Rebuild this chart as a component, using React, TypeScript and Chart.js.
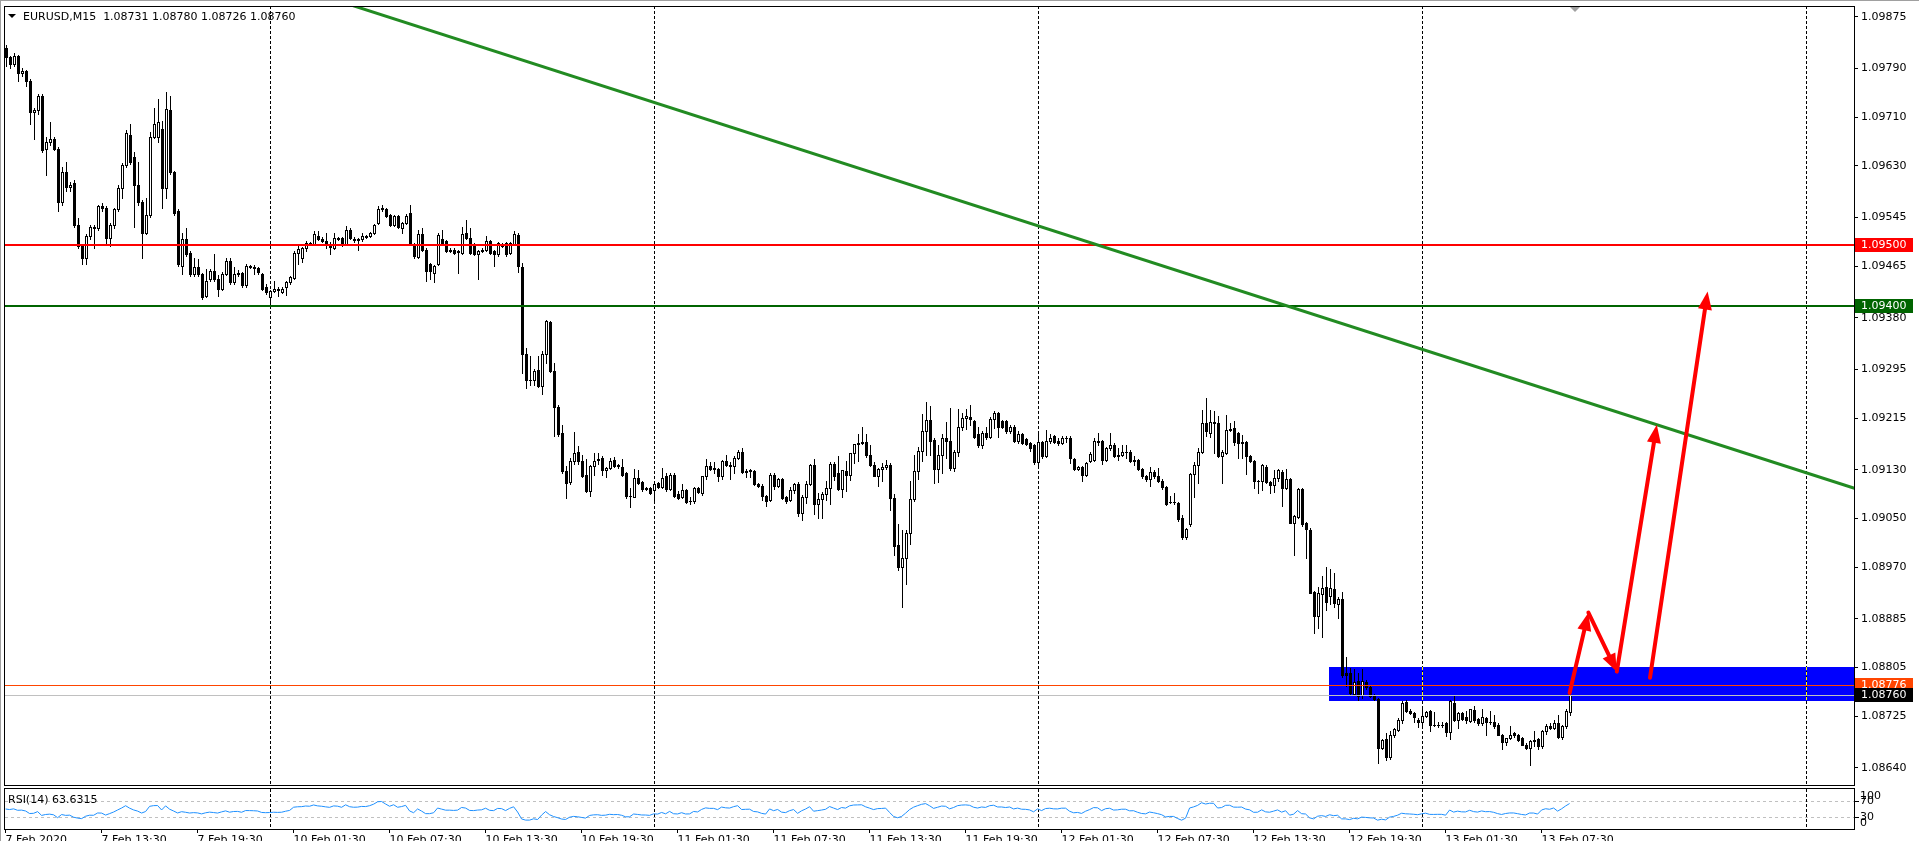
import React, { useEffect, useRef } from "react";
import { Chart, registerables } from "chart.js";

Chart.register(...registerables);

const FONT = '"DejaVu Sans", sans-serif';
const PRICE_SCALE = 100000; // OHLC below are in 1e-5 price units (109824 = 1.09824)

// EURUSD M15, bar 0 = 7 Feb 2020 07:30 ... bar 391 = 13 Feb 2020 09:15
const OPEN = [
  109824,109808,109797,109810,109783,109786,109770,109718,109721,109745,
  109658,109669,109674,109658,109571,109620,109595,109601,109533,109498,
  109479,109514,109530,109528,109563,109560,109511,109533,109558,109593,
  109631,109680,109645,109598,109571,109520,109549,109677,109678,109690,
  109593,109721,109620,109555,109465,109509,109487,109452,109463,109452,
  109416,109443,109457,109443,109427,109452,109473,109438,109452,109454,
  109433,109465,109464,109461,109452,109430,109414,109424,109428,109422,
  109430,109438,109446,109487,109478,109495,109503,109501,109514,109509,
  109506,109501,109495,109511,109511,109501,109525,109510,109509,109509,
  109514,109514,109519,109536,109558,109558,109549,109533,109547,109528,
  109536,109552,109501,109480,109517,109492,109468,109454,109468,109509,
  109506,109492,109492,109488,109487,109520,109511,109501,109484,109490,
  109492,109506,109490,109484,109498,109503,109487,109501,109516,109464,
  109320,109278,109278,109294,109268,109320,109373,109292,109234,109191,
  109128,109110,109144,109160,109144,109122,109095,109136,109146,109150,
  109130,109133,109146,109136,109134,109124,109087,109086,109117,109110,
  109100,109100,109097,109108,109102,109120,109098,109121,109090,109085,
  109096,109079,109078,109100,109091,109120,109136,109133,109131,109119,
  109145,109138,109136,109150,109160,109126,109128,109128,109107,109104,
  109087,109080,109122,109103,109115,109085,109080,109096,109106,109059,
  109086,109107,109138,109074,109082,109090,109100,109140,109124,109099,
  109128,109122,109158,109172,109174,109176,109154,109138,109120,109132,
  109134,109138,109083,109006,108970,108985,109026,109082,109128,109161,
  109194,109212,109179,109131,109155,109182,109178,109133,109160,109201,
  109215,109217,109210,109188,109171,109190,109184,109214,109223,109210,
  109210,109193,109201,109177,109188,109180,109174,109170,109142,109175,
  109153,109178,109185,109177,109174,109182,109183,109148,109131,109134,
  109122,109145,109146,109177,109177,109146,109166,109171,109152,109154,
  109160,109160,109145,109146,109131,109120,109115,109127,109120,109112,
  109101,109077,109077,109075,109050,109020,109040,109123,109138,109159,
  109207,109191,109208,109207,109153,109158,109196,109198,109190,109174,
  109175,109153,109144,109111,109111,109134,109110,109105,109116,109127,
  109100,109114,109043,109052,109098,109042,109031,108929,108889,108926,
  108937,108922,108934,108910,108917,108795,108796,108762,108782,108759,
  108781,108772,108760,108753,108673,108687,108657,108693,108702,108719,
  108748,108734,108730,108719,108715,108725,108733,108711,108710,108711,
  108713,108698,108747,108719,108730,108723,108717,108735,108720,108713,
  108722,108715,108716,108711,108693,108682,108689,108697,108693,108689,
  108678,108673,108686,108687,108675,108700,108709,108705,108714,108691,
  108708,108731,
];
const HIGH = [
  109828,109810,109815,109812,109790,109788,109772,109725,109748,109748,
  109677,109702,109677,109660,109628,109636,109603,109607,109544,109501,
  109517,109533,109533,109566,109569,109563,109536,109560,109598,109634,
  109688,109699,109652,109636,109574,109577,109685,109725,109740,109704,
  109752,109745,109622,109558,109520,109528,109490,109479,109476,109454,
  109460,109460,109484,109450,109455,109479,109479,109463,109458,109456,
  109468,109467,109466,109463,109454,109435,109426,109441,109430,109430,
  109440,109449,109489,109501,109497,109506,109505,109522,109522,109512,
  109520,109504,109520,109513,109513,109531,109527,109512,109511,109520,
  109516,109521,109534,109563,109565,109560,109551,109549,109549,109537,
  109551,109566,109503,109525,109528,109494,109470,109467,109520,109525,
  109508,109494,109494,109492,109530,109540,109528,109503,109492,109494,
  109514,109508,109492,109505,109503,109505,109505,109522,109520,109470,
  109331,109317,109295,109317,109325,109377,109375,109306,109236,109203,
  109136,109150,109192,109169,109155,109147,109138,109158,109158,109152,
  109135,109150,109151,109140,109147,109126,109100,109132,109130,109112,
  109102,109102,109110,109110,109133,109125,109125,109125,109095,109106,
  109098,109085,109102,109102,109120,109147,109143,109143,109133,109146,
  109155,109142,109152,109162,109165,109131,109131,109130,109109,109106,
  109089,109124,109124,109117,109117,109087,109101,109109,109110,109088,
  109111,109140,109147,109092,109093,109111,109142,109142,109152,109130,
  109144,109158,109172,109188,109200,109188,109170,109142,109133,109141,
  109146,109141,109090,109040,109031,109031,109111,109155,109168,109222,
  109242,109235,109182,109171,109188,109209,109231,109162,109230,109223,
  109230,109237,109212,109201,109194,109201,109217,109226,109225,109212,
  109212,109203,109203,109193,109191,109182,109176,109172,109193,109177,
  109196,109189,109187,109182,109185,109185,109186,109150,109136,109136,
  109143,109160,109183,109190,109179,109168,109190,109174,109165,109171,
  109171,109163,109152,109148,109133,109122,109134,109130,109133,109114,
  109103,109087,109092,109077,109056,109034,109125,109142,109166,109229,
  109248,109229,109226,109218,109162,109220,109207,109210,109192,109187,
  109178,109155,109146,109113,109139,109137,109112,109130,109132,109129,
  109132,109116,109056,109100,109100,109044,109034,108931,108938,108955,
  108970,108967,108960,108920,108929,108822,108804,108803,108796,108803,
  108784,108775,108762,108755,108687,108697,108700,108705,108721,108749,
  108752,108736,108732,108721,108737,108734,108735,108731,108715,108715,
  108715,108751,108758,108732,108732,108734,108736,108741,108722,108737,
  108724,108733,108727,108713,108695,108689,108708,108699,108696,108691,
  108680,108686,108700,108689,108702,108712,108714,108719,108726,108710,
  108736,108780,
];
const LOW = [
  109794,109790,109794,109770,109778,109761,109699,109674,109715,109652,
  109615,109664,109655,109555,109566,109588,109588,109530,109495,109468,
  109468,109509,109495,109525,109556,109501,109498,109528,109555,109577,
  109628,109633,109530,109566,109479,109517,109545,109675,109669,109560,
  109577,109617,109549,109465,109452,109482,109449,109449,109449,109411,
  109414,109440,109440,109416,109425,109450,109435,109436,109449,109430,
  109431,109462,109452,109452,109425,109419,109403,109422,109416,109420,
  109417,109436,109444,109468,109472,109490,109499,109499,109507,109504,
  109495,109484,109493,109507,109498,109499,109509,109505,109492,109506,
  109511,109512,109517,109534,109555,109546,109531,109531,109528,109520,
  109534,109499,109479,109478,109490,109441,109443,109438,109466,109501,
  109488,109488,109485,109454,109485,109509,109485,109483,109443,109488,
  109490,109485,109465,109482,109496,109482,109485,109499,109456,109289,
  109265,109270,109270,109266,109254,109306,109290,109185,109186,109125,
  109084,109106,109140,109140,109118,109093,109087,109122,109140,109122,
  109118,109131,109134,109133,109120,109084,109069,109085,109107,109095,
  109096,109090,109076,109100,109100,109095,109096,109085,109082,109083,
  109075,109073,109076,109092,109089,109114,109129,109125,109111,109114,
  109136,109114,109124,109148,109124,109118,109118,109105,109101,109080,
  109070,109078,109098,109101,109082,109076,109078,109092,109054,109048,
  109075,109105,109057,109051,109051,109081,109074,109113,109097,109086,
  109095,109113,109141,109145,109172,109151,109136,109119,109103,109111,
  109131,109064,108990,108965,108904,108942,109008,109078,109115,109145,
  109155,109155,109108,109110,109125,109150,109130,109128,109152,109196,
  109197,109204,109183,109168,109165,109180,109182,109198,109184,109198,
  109191,109191,109175,109174,109173,109171,109161,109140,109137,109149,
  109151,109174,109174,109171,109172,109175,109141,109129,109129,109111,
  109119,109143,109144,109171,109140,109144,109163,109151,109146,109152,
  109149,109143,109138,109129,109117,109112,109104,109117,109110,109098,
  109072,109075,109074,109045,109016,109016,109038,109085,109108,109157,
  109185,109184,109158,109151,109108,109156,109194,109171,109150,109150,
  109123,109142,109100,109092,109097,109108,109092,109094,109112,109071,
  109098,109042,108990,109050,109038,108985,108927,108862,108870,108855,
  108900,108910,108905,108886,108790,108775,108760,108760,108752,108755,
  108770,108756,108751,108648,108670,108652,108655,108690,108700,108714,
  108731,108728,108716,108707,108711,108723,108701,108709,108707,108707,
  108692,108687,108717,108706,108718,108714,108715,108715,108711,108711,
  108693,108712,108706,108693,108671,108678,108688,108691,108684,108677,
  108670,108645,108676,108670,108673,108696,108704,108703,108689,108687,
  108706,108726,
];
const CLOSE = [
  109808,109797,109810,109783,109786,109770,109718,109721,109745,109655,
  109669,109674,109658,109571,109620,109595,109598,109533,109498,109479,
  109514,109530,109528,109563,109560,109511,109533,109558,109593,109631,
  109683,109636,109598,109571,109520,109549,109677,109699,109702,109593,
  109723,109620,109552,109468,109509,109484,109452,109463,109452,109414,
  109441,109457,109443,109427,109452,109474,109438,109452,109454,109433,
  109465,109464,109461,109456,109427,109422,109424,109428,109425,109427,
  109438,109447,109487,109493,109495,109503,109501,109517,109509,109506,
  109501,109497,109511,109509,109501,109525,109511,109507,109508,109514,
  109513,109520,109533,109558,109561,109547,109533,109547,109530,109536,
  109547,109501,109482,109517,109492,109457,109457,109465,109516,109503,
  109490,109490,109487,109490,109517,109511,109487,109485,109490,109492,
  109506,109487,109484,109503,109501,109484,109503,109518,109465,109320,
  109278,109278,109292,109268,109321,109374,109292,109234,109188,109128,
  109108,109144,109158,109144,109120,109095,109136,109145,109147,109130,
  109133,109144,109136,109138,109122,109087,109087,109117,109109,109099,
  109098,109092,109106,109102,109117,109098,109121,109087,109084,109096,
  109077,109078,109100,109094,109119,109136,109131,109131,109119,109145,
  109138,109136,109150,109160,109126,109128,109129,109107,109103,109087,
  109079,109122,109103,109115,109084,109078,109096,109107,109059,109086,
  109107,109138,109074,109082,109090,109100,109140,109120,109099,109129,
  109121,109158,109172,109174,109176,109154,109138,109120,109132,109134,
  109138,109083,109004,108970,108985,109026,109082,109128,109161,109194,
  109212,109178,109131,109155,109182,109178,109133,109160,109201,109215,
  109219,109213,109184,109171,109190,109184,109214,109223,109200,109200,
  109193,109201,109177,109188,109174,109173,109166,109142,109175,109153,
  109178,109182,109175,109174,109182,109182,109150,109131,109134,109122,
  109141,109156,109177,109175,109146,109166,109171,109152,109154,109160,
  109160,109145,109146,109131,109119,109115,109127,109120,109112,109101,
  109074,109077,109077,109049,109020,109032,109123,109138,109160,109207,
  109193,109208,109207,109153,109160,109196,109197,109175,109174,109176,
  109153,109144,109111,109112,109137,109110,109105,109116,109129,109100,
  109115,109043,109054,109098,109040,109033,108928,108889,108927,108936,
  108912,108936,108911,108917,108793,108793,108763,108781,108758,108782,
  108772,108758,108753,108673,108685,108657,108693,108703,108719,108747,
  108734,108730,108724,108715,108725,108732,108711,108710,108711,108711,
  108698,108749,108719,108730,108720,108719,108736,108719,108713,108724,
  108715,108716,108708,108693,108682,108689,108693,108693,108686,108678,
  108673,108684,108684,108675,108700,108709,108705,108714,108691,108708,
  108733,108760,
];

const PRICE_TICKS = [
  1.09875, 1.0979, 1.0971, 1.0963, 1.09545, 1.09465, 1.0938, 1.09295,
  1.09215, 1.0913, 1.0905, 1.0897, 1.08885, 1.08805, 1.08725, 1.0864,
];
const TIME_LABEL_BARS = [0, 24, 48, 72, 96, 120, 144, 168, 192, 216, 240, 264, 288, 312, 336, 360, 384];
const TIME_LABELS = [
  "7 Feb 2020", "7 Feb 13:30", "7 Feb 19:30", "10 Feb 01:30", "10 Feb 07:30",
  "10 Feb 13:30", "10 Feb 19:30", "11 Feb 01:30", "11 Feb 07:30", "11 Feb 13:30",
  "11 Feb 19:30", "12 Feb 01:30", "12 Feb 07:30", "12 Feb 13:30", "12 Feb 19:30",
  "13 Feb 01:30", "13 Feb 07:30",
];
const DAY_START_BARS = [66, 162, 258, 354, 450];

const RESISTANCE_LEVEL = 1.095;
const TARGET_LEVEL = 1.094;
const ASK_LEVEL = 1.08776;
const BID_LEVEL = 1.0876;
const ZONE_BARS = [330.9, 470];
const ZONE_PRICES = [1.08805, 1.0875];
const TREND_BARS = [86, 470];
const TREND_PRICES = [1.09895, 1.09083];
const ARROWS: [number, number][][] = [
  [[391, 1.08763], [395.7, 1.08895]],
  [[395.7, 1.08895], [402.8, 1.08798]],
  [[402.8, 1.08798], [412.8, 1.09204]],
  [[411.1, 1.08788], [425.5, 1.09423]],
];

const RSI_PERIOD = 14;
const RSI_LEVELS = [70, 30];
const RSI_AXIS_LABELS = [100, 70, 30, 0];
const HEADER_TEXT = "EURUSD,M15  1.08731 1.08780 1.08726 1.08760";
const RSI_TEXT = "RSI(14) 63.6315";

const X_MIN = -0.15;
const X_MAX = 462.1;
const Y_MIN = 1.086116;
const Y_MAX = 1.098926;

const W = 1919;
const MAIN_H = 788;
const RSI_TOP = 786;
const RSI_H = 841 - RSI_TOP;

// RSI(14), Wilder smoothing of the close series (earlier history off-screen: seeded neutral)
function rsiFromCloses(close: number[], period: number): (number | null)[] {
  let seed = 0;
  for (let i = 1; i <= period; i++) seed += Math.abs(close[i] - close[i - 1]);
  seed /= period * 2;
  let g = seed, l = seed;
  const out: (number | null)[] = [50];
  for (let i = 1; i < close.length; i++) {
    const ch = close[i] - close[i - 1];
    g = (g * (period - 1) + Math.max(ch, 0)) / period;
    l = (l * (period - 1) + Math.max(-ch, 0)) / period;
    out.push(l === 0 ? 100 : 100 - 100 / (1 + g / l));
  }
  return out;
}

const px = (v: number) => v / PRICE_SCALE;

const mainPlugin = {
  id: "mt4main",
  beforeDatasetsDraw(chart: any) {
    const { ctx, chartArea: a } = chart;
    const xs = chart.scales.x, ys = chart.scales.y;
    ctx.save();
    ctx.beginPath();
    ctx.rect(a.left, a.top, a.right - a.left, a.bottom - a.top);
    ctx.clip();
    // zone rectangle (background)
    const zx1 = Math.round(xs.getPixelForValue(ZONE_BARS[0]));
    const zx2 = Math.round(xs.getPixelForValue(ZONE_BARS[1]));
    const zy1 = Math.round(ys.getPixelForValue(ZONE_PRICES[0]));
    const zy2 = Math.round(ys.getPixelForValue(ZONE_PRICES[1]));
    ctx.fillStyle = "#0000FF";
    ctx.fillRect(zx1, zy1, zx2 - zx1, zy2 - zy1);
    // day separators
    ctx.lineWidth = 1;
    ctx.setLineDash([3, 2]);
    for (const b of DAY_START_BARS) {
      const x = Math.round(xs.getPixelForValue(b)) + 0.5;
      ctx.strokeStyle = "#000";
      ctx.beginPath();
      ctx.moveTo(x, a.top);
      ctx.lineTo(x, a.bottom);
      ctx.stroke();
      if (x > zx1 && x < zx2) {
        ctx.strokeStyle = "#FFFF00";
        ctx.beginPath();
        ctx.moveTo(x, zy1);
        ctx.lineTo(x, zy2);
        ctx.stroke();
      }
    }
    ctx.setLineDash([]);
    // candles
    for (let i = 0; i < CLOSE.length; i++) {
      const cx = Math.round(xs.getPixelForValue(i));
      const yH = Math.round(ys.getPixelForValue(px(HIGH[i])));
      const yL = Math.round(ys.getPixelForValue(px(LOW[i])));
      const yO = Math.round(ys.getPixelForValue(px(OPEN[i])));
      const yC = Math.round(ys.getPixelForValue(px(CLOSE[i])));
      ctx.fillStyle = "#000";
      ctx.fillRect(cx, yH, 1, yL - yH + 1);
      const top = Math.min(yO, yC), bot = Math.max(yO, yC);
      ctx.fillRect(cx - 1, top, 3, bot - top + 1);
      if (CLOSE[i] > OPEN[i] && bot - top >= 2) {
        ctx.fillStyle = "#FFF";
        ctx.fillRect(cx, top + 1, 1, bot - top - 1);
      }
    }
    // horizontal levels
    const level = (p: number, color: string, w: number) => {
      const y = Math.round(ys.getPixelForValue(p));
      ctx.fillStyle = color;
      ctx.fillRect(a.left, y - Math.floor(w / 2), a.right - a.left, w);
    };
    level(RESISTANCE_LEVEL, "#FF0000", 2);
    level(TARGET_LEVEL, "#006400", 2);
    level(ASK_LEVEL, "#FF4500", 1);
    level(BID_LEVEL, "#C0C0C0", 1);
    ctx.restore();
  },
  afterDatasetsDraw(chart: any) {
    const { ctx, chartArea: a } = chart;
    const xs = chart.scales.x, ys = chart.scales.y;
    ctx.save();
    ctx.beginPath();
    ctx.rect(a.left, a.top, a.right - a.left, a.bottom - a.top);
    ctx.clip();
    ctx.strokeStyle = "#FF0000";
    ctx.fillStyle = "#FF0000";
    ctx.lineWidth = 4;
    ctx.lineCap = "round";
    for (const [[b0, p0], [b1, p1]] of ARROWS) {
      const x0 = xs.getPixelForValue(b0), y0 = ys.getPixelForValue(p0);
      const x1 = xs.getPixelForValue(b1), y1 = ys.getPixelForValue(p1);
      const len = Math.hypot(x1 - x0, y1 - y0);
      const ux = (x1 - x0) / len, uy = (y1 - y0) / len;
      const hl = 18, hw = 7;
      const bx = x1 - ux * hl, by = y1 - uy * hl;
      ctx.beginPath();
      ctx.moveTo(x0, y0);
      ctx.lineTo(bx + ux * 3, by + uy * 3);
      ctx.stroke();
      ctx.beginPath();
      ctx.moveTo(x1, y1);
      ctx.lineTo(bx - uy * hw, by + ux * hw);
      ctx.lineTo(bx + uy * hw, by - ux * hw);
      ctx.closePath();
      ctx.fill();
    }
    ctx.restore();
  },
  afterDraw(chart: any) {
    const { ctx, chartArea: a } = chart;
    const xs = chart.scales.x, ys = chart.scales.y;
    ctx.save();
    // window frame
    ctx.fillStyle = "#A0A0A0";
    ctx.fillRect(0, 0, W, 1);
    ctx.fillRect(0, 0, 1, MAIN_H);
    // plot border
    ctx.strokeStyle = "#000";
    ctx.lineWidth = 1;
    ctx.strokeRect(4.5, 6.5, 1850, 779);
    // header
    ctx.fillStyle = "#000";
    ctx.beginPath();
    ctx.moveTo(8, 14);
    ctx.lineTo(16, 14);
    ctx.lineTo(12, 18);
    ctx.closePath();
    ctx.fill();
    ctx.font = `11px ${FONT}`;
    ctx.textAlign = "left";
    ctx.textBaseline = "alphabetic";
    ctx.fillText(HEADER_TEXT, 23, 20);
    // chart-shift marker
    const sx = Math.round(xs.getPixelForValue(CLOSE.length + 0.35));
    ctx.fillStyle = "#A0A0A0";
    ctx.beginPath();
    ctx.moveTo(sx - 5, 7);
    ctx.lineTo(sx + 5, 7);
    ctx.lineTo(sx, 12);
    ctx.closePath();
    ctx.fill();
    // price label boxes on the axis
    const box = (p: number, bg: string) => {
      const y = Math.round(ys.getPixelForValue(p));
      ctx.fillStyle = bg;
      ctx.fillRect(a.right + 1, y - 7, 58, 14);
      ctx.fillStyle = "#FFF";
      ctx.font = `11px ${FONT}`;
      ctx.textBaseline = "middle";
      ctx.fillText(p.toFixed(5), a.right + 7, y + 0.5);
    };
    box(RESISTANCE_LEVEL, "#FF0000");
    box(TARGET_LEVEL, "#006400");
    box(ASK_LEVEL, "#FF4500");
    box(BID_LEVEL, "#000000");
    ctx.restore();
  },
};

const rsiPlugin = {
  id: "mt4rsi",
  beforeDatasetsDraw(chart: any) {
    const { ctx, chartArea: a } = chart;
    const xs = chart.scales.x, ys = chart.scales.y;
    ctx.save();
    ctx.lineWidth = 1;
    ctx.setLineDash([3, 3]);
    ctx.strokeStyle = "#C0C0C0";
    for (const lv of RSI_LEVELS) {
      const y = Math.round(ys.getPixelForValue(lv)) + 0.5;
      ctx.beginPath();
      ctx.moveTo(a.left, y);
      ctx.lineTo(a.right, y);
      ctx.stroke();
    }
    ctx.setLineDash([3, 2]);
    ctx.strokeStyle = "#000";
    for (const b of DAY_START_BARS) {
      const x = Math.round(xs.getPixelForValue(b)) + 0.5;
      ctx.beginPath();
      ctx.moveTo(x, a.top);
      ctx.lineTo(x, a.bottom);
      ctx.stroke();
    }
    ctx.restore();
  },
  afterDraw(chart: any) {
    const { ctx, chartArea: a } = chart;
    const ys = chart.scales.y;
    ctx.save();
    ctx.fillStyle = "#A0A0A0";
    ctx.fillRect(0, 0, 1, RSI_H);
    ctx.strokeStyle = "#000";
    ctx.lineWidth = 1;
    ctx.strokeRect(4.5, 2.5, 1850, 41);
    ctx.fillStyle = "#000";
    ctx.font = `11px ${FONT}`;
    ctx.textAlign = "left";
    ctx.textBaseline = "alphabetic";
    ctx.fillText(RSI_TEXT, 8, 17);
    ctx.textBaseline = "middle";
    for (const v of RSI_AXIS_LABELS) {
      const yv = ys.getPixelForValue(v);
      const y = Math.min(Math.max(yv, a.top + 7.5), a.bottom - 6);
      if (v === 70 || v === 30) ctx.fillRect(a.right + 1, Math.round(yv), 4, 1);
      ctx.fillText(String(v), a.right + 6, y);
    }
    ctx.restore();
  },
};

export default function App() {
  const mainRef = useRef<HTMLCanvasElement>(null);
  const rsiRef = useRef<HTMLCanvasElement>(null);

  useEffect(() => {
    document.body.style.margin = "0";
    document.body.style.overflow = "hidden";
    document.body.style.background = "#fff";

    const trendData = TREND_BARS.map((b, k) => ({ x: b, y: TREND_PRICES[k] }));
    const main = new Chart(mainRef.current as HTMLCanvasElement, {
      type: "line",
      data: {
        datasets: [
          {
            data: trendData,
            borderColor: "#228B22",
            borderWidth: 3,
            pointRadius: 0,
            fill: false,
            clip: 0,
          } as any,
        ],
      },
      options: {
        animation: false,
        responsive: false,
        maintainAspectRatio: false,
        devicePixelRatio: 1,
        events: [],
        layout: { padding: { left: 5, top: 6, right: 0, bottom: 3 } },
        plugins: { legend: { display: false }, tooltip: { enabled: false } },
        scales: {
          x: { type: "linear", min: X_MIN, max: X_MAX, display: false },
          y: {
            type: "linear",
            position: "right",
            min: Y_MIN,
            max: Y_MAX,
            afterFit(s: any) {
              s.width = 65;
              s.paddingTop = 0;
              s.paddingBottom = 0;
            },
            afterBuildTicks(s: any) {
              s.ticks = PRICE_TICKS.map((value) => ({ value }));
            },
            ticks: {
              autoSkip: false,
              padding: 3,
              color: "#000",
              font: { family: FONT, size: 11 },
              callback: (v: any) => Number(v).toFixed(5),
            },
            grid: { drawOnChartArea: false, drawTicks: true, tickLength: 4, color: "#000" },
            border: { display: false },
          },
        },
      } as any,
      plugins: [mainPlugin],
    });

    const rsi = rsiFromCloses(CLOSE, RSI_PERIOD);
    const rsiChart = new Chart(rsiRef.current as HTMLCanvasElement, {
      type: "line",
      data: {
        datasets: [
          {
            data: rsi.map((v, i) => ({ x: i, y: v })),
            borderColor: "#1E90FF",
            borderWidth: 1,
            pointRadius: 0,
            fill: false,
            tension: 0,
          } as any,
        ],
      },
      options: {
        animation: false,
        responsive: false,
        maintainAspectRatio: false,
        devicePixelRatio: 1,
        events: [],
        layout: { padding: { left: 5, top: 3, right: 0, bottom: 0 } },
        plugins: { legend: { display: false }, tooltip: { enabled: false } },
        scales: {
          x: {
            type: "linear",
            min: X_MIN,
            max: X_MAX,
            afterFit(s: any) {
              s.height = 12;
              s.paddingLeft = 0;
              s.paddingRight = 0;
            },
            afterBuildTicks(s: any) {
              s.ticks = TIME_LABEL_BARS.map((value) => ({ value }));
            },
            ticks: {
              autoSkip: false,
              maxRotation: 0,
              minRotation: 0,
              align: "start",
              padding: 1,
              color: "#000",
              font: { family: FONT, size: 11 },
              callback: (_v: any, idx: number) => TIME_LABELS[idx],
            },
            grid: { drawOnChartArea: false, drawTicks: true, tickLength: 4, color: "#000" },
            border: { display: false },
          },
          y: {
            type: "linear",
            position: "right",
            min: 0,
            max: 100,
            afterFit(s: any) {
              s.width = 65;
              s.paddingTop = 0;
              s.paddingBottom = 0;
            },
            ticks: { display: false },
            grid: { display: false },
            border: { display: false },
          },
        },
      } as any,
      plugins: [rsiPlugin],
    });

    return () => {
      main.destroy();
      rsiChart.destroy();
    };
  }, []);

  return (
    <div style={{ position: "relative", width: W, height: 841, overflow: "hidden", background: "#fff" }}>
      <canvas
        ref={mainRef}
        width={W}
        height={MAIN_H}
        style={{ position: "absolute", left: 0, top: 0, width: W, height: MAIN_H, display: "block" }}
      />
      <canvas
        ref={rsiRef}
        width={W}
        height={RSI_H}
        style={{ position: "absolute", left: 0, top: RSI_TOP, width: W, height: RSI_H, display: "block" }}
      />
    </div>
  );
}
